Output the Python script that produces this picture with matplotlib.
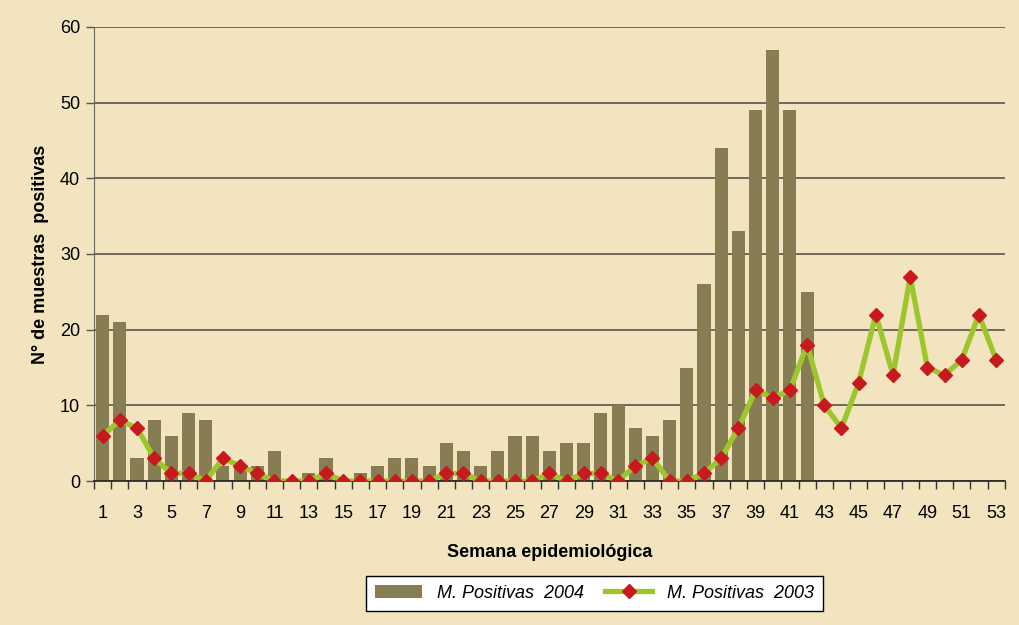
"""
Muestras positivas por semana epidemiologica, 2004 vs 2003
"""

import numpy as np
import matplotlib.pyplot as plt

plt.rcParams['font.family'] = ['Liberation Sans', 'DejaVu Sans']

# Weeks and counts
weeks = list(range(1, 54))
positivas_2004 = [22, 21, 3, 8, 6, 9, 8, 2, 2, 2,
                  4, 0, 1, 3, 0, 1, 2, 3, 3, 2,
                  5, 4, 2, 4, 6, 6, 4, 5, 5, 9,
                  10, 7, 6, 8, 15, 26, 44, 33, 49, 57,
                  49, 25]
positivas_2003 = [6, 8, 7, 3, 1, 1, 0, 3, 2, 1,
                  0, 0, 0, 1, 0, 0, 0, 0, 0, 0,
                  1, 1, 0, 0, 0, 0, 1, 0, 1, 1,
                  0, 2, 3, 0, 0, 1, 3, 7, 12, 11,
                  12, 18, 10, 7, 13, 22, 14, 27, 15, 14,
                  16, 22, 16]
y_ticks = [0, 10, 20, 30, 40, 50, 60]
x_tick_labels = [str(w) for w in weeks[::2]]

bg = '#f1e4be'
bar_color = '#867e52'
line_color = '#9cc62c'
marker_color = '#c8191e'

fig = plt.figure(figsize=(10.2, 6.25), dpi=100, facecolor=bg)
ax = fig.add_axes([0.0922, 0.2304, 0.8928, 0.7264])
ax.set_facecolor(bg)

# Bars 2004
bars = ax.bar(weeks[:len(positivas_2004)], positivas_2004, width=0.76,
              color=bar_color, edgecolor='none', zorder=2,
              label='M. Positivas  2004')

# Line 2003
line, = ax.plot(weeks, positivas_2003, color=line_color, linewidth=3.8,
                marker='D', markersize=7, markerfacecolor=marker_color,
                markeredgecolor=marker_color, zorder=3,
                label='M. Positivas  2003')

ax.set_xlim(0.5, 53.5)
ax.set_ylim(0, 60)
ax.set_yticks(y_ticks)
ax.yaxis.grid(True, color='#5a554a', linewidth=1.2, zorder=1)
ax.set_axisbelow(True)

# Category boundary ticks below axis, labels on odd weeks
ax.set_xticks(np.arange(0.5, 54, 1), minor=True)
ax.set_xticks(weeks[::2])
ax.set_xticklabels(x_tick_labels)
ax.tick_params(axis='x', which='minor', length=6, width=1, color='#333333',
               direction='out')
ax.tick_params(axis='x', which='major', length=0, pad=17, labelsize=13)
ax.tick_params(axis='y', length=6, width=1, color='#555555', pad=4,
               labelsize=13)

for side in ['top', 'right']:
    ax.spines[side].set_visible(False)
ax.spines['left'].set_color('#6b675c')
ax.spines['bottom'].set_color('#222222')
ax.spines['bottom'].set_linewidth(1.2)

ax.set_ylabel('N° de muestras  positivas', fontsize=13, fontweight='bold',
              labelpad=8)
ax.set_xlabel('Semana epidemiológica', fontsize=13, fontweight='bold',
              labelpad=16)

leg = fig.legend([bars, line], ['M. Positivas  2004', 'M. Positivas  2003'],
                 loc='center', bbox_to_anchor=(0.583, 0.051), ncol=2,
                 prop={'style': 'italic', 'size': 13},
                 frameon=True, fancybox=False, edgecolor='black',
                 facecolor='white', framealpha=1, handlelength=2.6,
                 columnspacing=1.2, borderpad=0.5)
leg.get_frame().set_linewidth(1.0)

plt.savefig('out.png', dpi=100, facecolor=bg)
plt.close()
